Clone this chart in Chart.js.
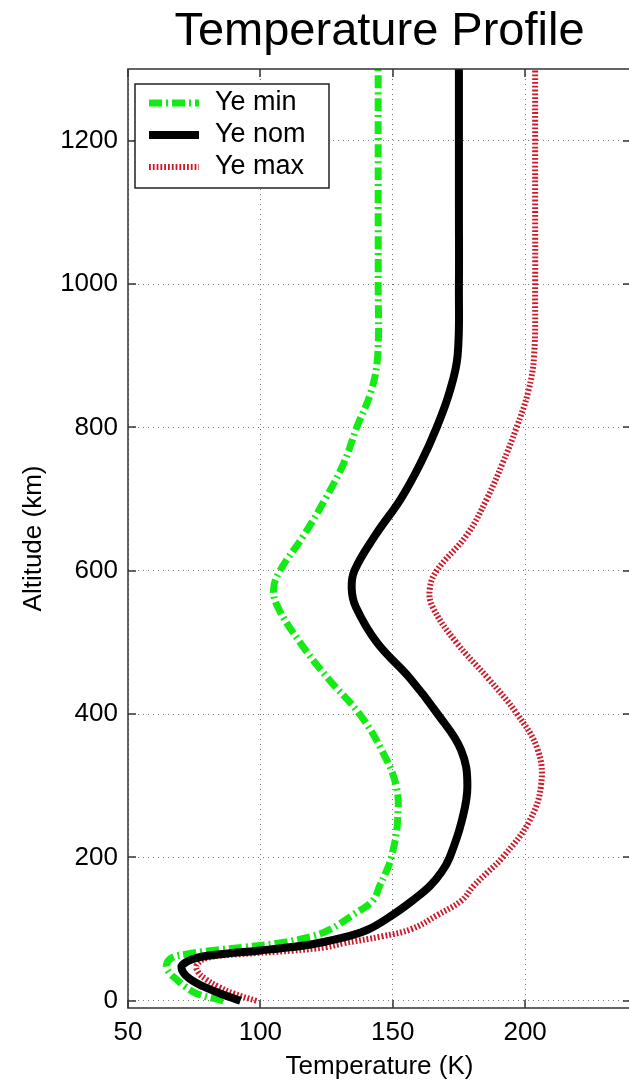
<!DOCTYPE html>
<html>
<head>
<meta charset="utf-8">
<title>Temperature Profile</title>
<script src="https://cdn.jsdelivr.net/npm/chart.js@4.4.0/dist/chart.umd.min.js"></script>
<style>
    html, body { margin: 0; padding: 0; background: #fff; overflow: hidden; }
    canvas { display: block; }
</style>
</head>
<body>
<canvas id="tempChart" width="640" height="1084"></canvas>
<script>
// Altitude levels (km) shared by the three profiles
var altitude = [0, 10, 20, 30, 40, 50, 60, 65, 70, 75, 80, 90, 100, 120, 140, 160, 180, 200,
    250, 300, 350, 400, 450, 500, 550, 575, 600, 650, 700, 750, 800, 850, 900, 1000, 1100, 1200, 1300];

// Temperature (K) at each altitude level
var tempMin = [86, 76, 71.5, 68.3, 65.5, 64.5, 66.5, 72, 81, 94, 106, 119.5, 126.5, 135, 142.5, 145, 147.5, 149.5,
    151.8, 151.3, 145.8, 137.5, 125.5, 115, 106.5, 105, 107.4, 116.5, 124.5, 131.5, 136.4, 141.8, 144.3, 144.5, 144.5, 144.5, 144.5];
var tempNom = [92.5, 85, 78.5, 73.5, 70.8, 70.5, 76, 85, 99, 112, 121, 133, 141, 150, 157.5, 164, 168.5, 171.5,
    176, 178.2, 175.8, 167, 156.5, 144, 136, 134.5, 135.5, 143.5, 153, 160.5, 166.6, 171.5, 174.5, 175, 175, 175, 175];
var tempMax = [98.5, 90, 84, 79.5, 76.5, 76, 80, 92, 112, 125, 131, 146, 157, 167, 176, 180.5, 186, 191.5,
    201.5, 206, 204.8, 197, 186, 174, 165, 164, 166.6, 178, 185.5, 191.5, 196.8, 201.2, 203.4, 203.8, 203.8, 203.8, 203.8];

var seriesLabels = ["Ye min", "Ye nom", "Ye max"];
var xTicks = [50, 100, 150, 200];
var yTicks = [0, 200, 400, 600, 800, 1000, 1200];

var fontFamily = '"Liberation Sans", Arial, Helvetica, sans-serif';

// Pair each temperature with its altitude
function profile(temps) {
    return temps.map(function (t, i) {
        return { x: t, y: altitude[i] };
    });
}

// Box, inward tick marks and the legend drawn inside the axes
var axesBox = {
    id: 'axesBox',
    afterDatasetsDraw: function (chart) {
        var ctx = chart.ctx;
        var a = chart.chartArea;
        var xs = chart.scales.x;
        var ys = chart.scales.y;
        ctx.save();
        ctx.strokeStyle = '#333';
        ctx.lineWidth = 1.5;
        ctx.beginPath();
        xs.ticks.forEach(function (t) {
            var px = Math.round(xs.getPixelForValue(t.value));
            ctx.moveTo(px, a.bottom);
            ctx.lineTo(px, a.bottom - 8);
            ctx.moveTo(px, a.top);
            ctx.lineTo(px, a.top + 8);
        });
        ys.ticks.forEach(function (t) {
            var py = Math.round(ys.getPixelForValue(t.value));
            ctx.moveTo(a.left, py);
            ctx.lineTo(a.left + 8, py);
            ctx.moveTo(a.right, py);
            ctx.lineTo(a.right - 8, py);
        });
        ctx.stroke();
        ctx.strokeRect(a.left, a.top, a.right - a.left, a.bottom - a.top);

        // legend
        var lx = a.left + 7, ly = a.top + 15, lw = 194, lh = 104;
        ctx.fillStyle = '#fff';
        ctx.fillRect(lx, ly, lw, lh);
        ctx.strokeStyle = '#222';
        ctx.lineWidth = 1.5;
        ctx.strokeRect(lx, ly, lw, lh);
        chart.data.datasets.forEach(function (ds, i) {
            var cy = ly + 19 + i * 32;
            ctx.strokeStyle = ds.borderColor;
            ctx.lineWidth = ds.borderWidth;
            ctx.setLineDash(ds.borderDash || []);
            ctx.beginPath();
            ctx.moveTo(lx + 14, cy);
            ctx.lineTo(lx + 64, cy);
            ctx.stroke();
            ctx.setLineDash([]);
            ctx.fillStyle = '#000';
            ctx.font = '27px ' + fontFamily;
            ctx.textBaseline = 'middle';
            ctx.textAlign = 'left';
            ctx.fillText(ds.label, lx + 80, cy);
        });
        ctx.restore();
    }
};

var ctx = document.getElementById('tempChart').getContext('2d');
var chart = new Chart(ctx, {
    type: 'line',
    data: {
        datasets: [{
            label: seriesLabels[0],
            data: profile(tempMin),
            borderColor: 'rgb(20, 235, 20)',
            borderWidth: 7,
            borderDash: [13, 4, 2, 4],
            order: 2
        }, {
            label: seriesLabels[1],
            data: profile(tempNom),
            borderColor: '#000',
            borderWidth: 8,
            order: 0
        }, {
            label: seriesLabels[2],
            data: profile(tempMax),
            borderColor: 'rgb(205, 25, 40)',
            borderWidth: 6,
            borderDash: [1.8, 2],
            order: 1
        }]
    },
    options: {
        responsive: false,
        animation: false,
        devicePixelRatio: 1,
        indexAxis: 'y',
        layout: {
            padding: { left: 0, right: 9, top: 0, bottom: 0 }
        },
        elements: {
            point: { radius: 0 },
            line: { tension: 0.4, borderCapStyle: 'butt', fill: false }
        },
        plugins: {
            legend: { display: false },
            tooltip: { enabled: false },
            title: {
                display: true,
                text: 'Temperature Profile',
                color: '#000',
                fullSize: false,
                font: { family: fontFamily, size: 47, weight: 'normal' },
                padding: { top: 4, bottom: 8.6 }
            }
        },
        scales: {
            x: {
                type: 'linear',
                position: 'bottom',
                min: 50,
                max: 240,
                afterBuildTicks: function (scale) {
                    scale.ticks = xTicks.map(function (v) { return { value: v }; });
                },
                afterFit: function (scale) { scale.height = 76; },
                grid: { color: '#777', lineWidth: 1, drawTicks: false },
                border: { display: false, dash: [1, 4] },
                ticks: {
                    color: '#000',
                    padding: 9,
                    maxRotation: 0,
                    autoSkip: false,
                    font: { family: fontFamily, size: 26 },
                    callback: function (v) { return String(v); }
                },
                title: {
                    display: true,
                    text: 'Temperature (K)',
                    color: '#000',
                    font: { family: fontFamily, size: 26 },
                    padding: { top: 0, bottom: 2 }
                }
            },
            y: {
                type: 'linear',
                position: 'left',
                min: -10,
                max: 1300,
                afterBuildTicks: function (scale) {
                    scale.ticks = yTicks.map(function (v) { return { value: v }; });
                },
                afterFit: function (scale) { scale.width = 128; },
                grid: { color: '#777', lineWidth: 1, drawTicks: false },
                border: { display: false, dash: [1, 4] },
                ticks: {
                    color: '#000',
                    padding: 10,
                    autoSkip: false,
                    font: { family: fontFamily, size: 26 },
                    callback: function (v) { return String(v); }
                },
                title: {
                    display: true,
                    text: 'Altitude (km)',
                    color: '#000',
                    font: { family: fontFamily, size: 26 },
                    padding: { top: 18, bottom: 0 }
                }
            }
        }
    },
    plugins: [axesBox]
});
</script>
</body>
</html>
